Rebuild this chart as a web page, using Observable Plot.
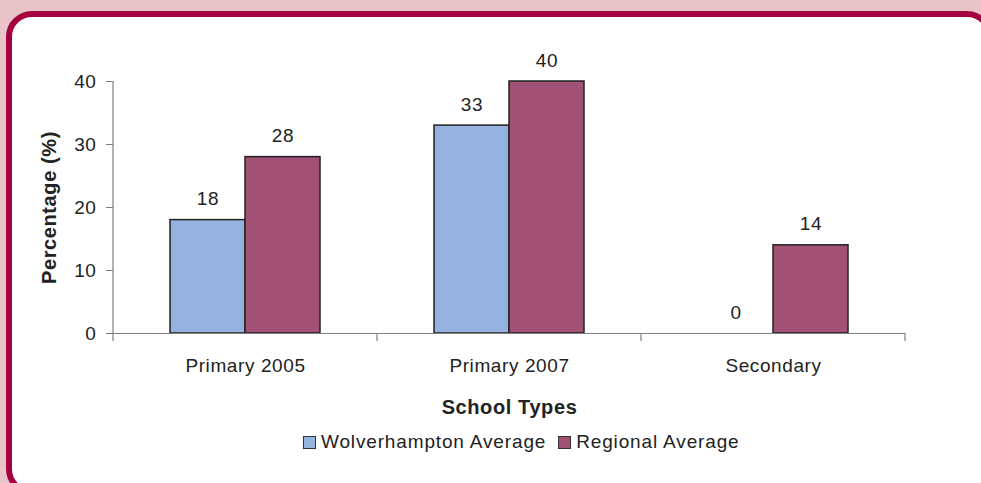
<!DOCTYPE html>
<html>
<head>
<meta charset="utf-8">
<script src="https://cdn.jsdelivr.net/npm/d3@7"></script>
<script src="https://cdn.jsdelivr.net/npm/@observablehq/plot@0.6"></script>
<style>
  html, body { margin: 0; padding: 0; width: 981px; height: 483px; overflow: hidden; background: #e8c4c8; font-family: "Liberation Sans", Arial, sans-serif; }
  #frame { position: absolute; left: 6px; top: 11px; width: 975px; height: 472px; border: 6px solid #a5003f; border-radius: 26px; background: #ffffff; box-sizing: content-box; }
  #chart { position: absolute; left: 0; top: 0; }
  #chart svg text { letter-spacing: 0.6px; }
  #legend { position: absolute; left: 303px; top: 431px; display: flex; align-items: center; font-size: 19px; letter-spacing: 0.85px; color: #222; white-space: nowrap; }
  #legend .item { display: flex; align-items: center; margin-right: 12px; }
  #legend .sw { width: 11px; height: 11px; border: 1.5px solid #333; margin-right: 5px; }
  g[aria-label="y-axis label"] text, g[aria-label="fx-axis label"] text { font-weight: bold; font-size: 20px; letter-spacing: 1px; }
</style>
</head>
<body>
<div id="frame"></div>
<div id="chart"></div>
<div id="legend"></div>
<script>
const categories = ["Primary 2005", "Primary 2007", "Secondary"];
const series = ["Wolverhampton Average", "Regional Average"];
const wolverhampton = [18, 33, 0];
const regional = [28, 40, 14];
const yTicks = [0, 10, 20, 30, 40];
const colors = ["#95b3de", "#a15174"];

const rows = [];
categories.forEach((c, i) => {
  rows.push({category: c, series: series[0], value: wolverhampton[i]});
  rows.push({category: c, series: series[1], value: regional[i]});
});

const chart = Plot.plot({
  width: 981,
  height: 420,
  marginLeft: 113,
  marginRight: 76,
  marginTop: 81,
  marginBottom: 87,
  style: {fontFamily: "Liberation Sans, Arial, sans-serif", fontSize: "19px", color: "#222", background: "transparent"},
  fx: {domain: categories, paddingInner: 0, paddingOuter: 0},
  x: {domain: series, paddingInner: 0, paddingOuter: 0.737, axis: null},
  y: {domain: [0, 40], ticks: yTicks},
  color: {domain: series, range: colors},
  marks: [
    Plot.barY(rows.filter(d => d.value > 0), {fx: "category", x: "series", y: "value", fill: "series", stroke: "#222", strokeWidth: 1.5}),
    Plot.ruleY([0], {stroke: "#808080", strokeWidth: 1.2}),
    Plot.text(rows, {fx: "category", x: "series", y: "value", text: d => String(d.value), dy: -21, fontSize: 19, fill: "#222"}),
    Plot.axisY({ticks: yTicks, tickSize: 7, tickPadding: 10, fontSize: 19, stroke: "#808080", label: "Percentage (%)", labelAnchor: "center", labelOffset: 72, labelArrow: "none"}),
    Plot.axisFx({anchor: "bottom", tickSize: 0, tickPadding: 25, fontSize: 19, label: "School Types", labelAnchor: "center", labelOffset: 80})
  ]
});
document.getElementById("chart").appendChild(chart);

// category boundary ticks and y-axis line, placed through the plot's own scales
const fxs = chart.scale("fx");
const ys = chart.scale("y");
const edges = categories.map(c => fxs.apply(c)).concat([fxs.apply(categories[categories.length - 1]) + fxs.bandwidth]);
const y0 = ys.apply(0), yTop = ys.apply(yTicks[yTicks.length - 1]);
const g = d3.select(chart).append("g").attr("stroke", "#808080").attr("stroke-width", 1.2);
g.selectAll("line.edge").data(edges).join("line").attr("class", "edge")
  .attr("x1", d => d).attr("x2", d => d).attr("y1", y0).attr("y2", y0 + 8);
g.append("line").attr("x1", edges[0]).attr("x2", edges[0]).attr("y1", yTop).attr("y2", y0);

// legend
const legend = d3.select("#legend");
series.forEach((s, i) => {
  const item = legend.append("div").attr("class", "item");
  item.append("div").attr("class", "sw").style("background", colors[i]);
  item.append("span").text(s);
});
</script>
</body>
</html>
